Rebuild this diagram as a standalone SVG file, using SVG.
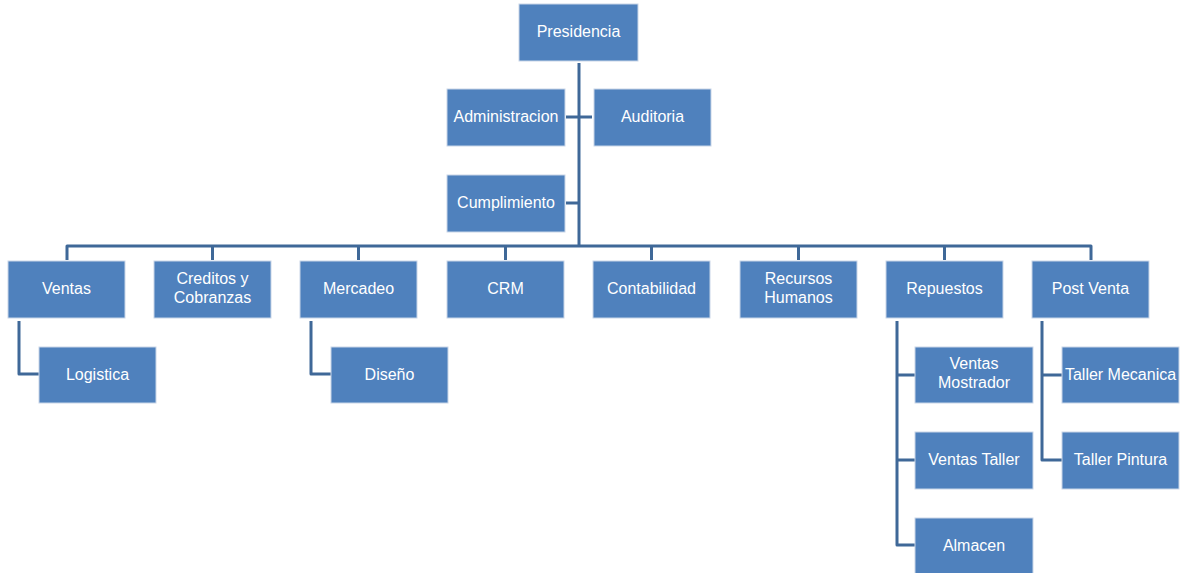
<svg xmlns="http://www.w3.org/2000/svg" width="1189" height="573" viewBox="0 0 1189 573">
<style>
.box{fill:#4F81BD;stroke:#c9d6e8;stroke-width:1}
.t{fill:#ffffff;font-family:"Liberation Sans",Arial,sans-serif;font-size:16px;text-anchor:middle}
.c{fill:none;stroke:#3F6898;stroke-width:3;stroke-linejoin:round}
</style>
<rect width="1189" height="573" fill="#ffffff"/>
<g id="connectors">
<path class="c" d="M579,63 V246"/>
<path class="c" d="M566,117 H592"/>
<path class="c" d="M566,203 H579"/>
<path class="c" d="M67,260 V246 H1091 V260"/>
<path class="c" d="M212.5,246 V260 M358.5,246 V260 M505.5,246 V260 M651.5,246 V260 M798.5,246 V260 M944.5,246 V260"/>
<path class="c" d="M19,321 V374 H39"/>
<path class="c" d="M311,321 V374 H331"/>
<path class="c" d="M897,321 V545 H915 M897,375 H915 M897,460 H915"/>
<path class="c" d="M1042,321 V460 H1062 M1042,375 H1062"/>
</g>
<g id="presidencia"><rect class="box" x="519" y="4" width="119" height="57"/><text class="t" x="578.5" y="37">Presidencia</text></g>
<g id="administracion"><rect class="box" x="447" y="89" width="118" height="57"/><text class="t" x="506" y="122">Administracion</text></g>
<g id="auditoria"><rect class="box" x="594" y="89" width="117" height="57"/><text class="t" x="652.5" y="122">Auditoria</text></g>
<g id="cumplimiento"><rect class="box" x="447" y="175" width="118" height="57"/><text class="t" x="506" y="208">Cumplimiento</text></g>
<g id="ventas"><rect class="box" x="8" y="261" width="117" height="57"/><text class="t" x="66.5" y="294">Ventas</text></g>
<g id="creditos"><rect class="box" x="154" y="261" width="117" height="57"/><text class="t" x="212.5" y="284">Creditos y</text><text class="t" x="212.5" y="303">Cobranzas</text></g>
<g id="mercadeo"><rect class="box" x="300" y="261" width="117" height="57"/><text class="t" x="358.5" y="294">Mercadeo</text></g>
<g id="crm"><rect class="box" x="447" y="261" width="117" height="57"/><text class="t" x="505.5" y="294">CRM</text></g>
<g id="contabilidad"><rect class="box" x="593" y="261" width="117" height="57"/><text class="t" x="651.5" y="294">Contabilidad</text></g>
<g id="rrhh"><rect class="box" x="740" y="261" width="117" height="57"/><text class="t" x="798.5" y="284">Recursos</text><text class="t" x="798.5" y="303">Humanos</text></g>
<g id="repuestos"><rect class="box" x="886" y="261" width="117" height="57"/><text class="t" x="944.5" y="294">Repuestos</text></g>
<g id="postventa"><rect class="box" x="1032" y="261" width="117" height="57"/><text class="t" x="1090.5" y="294">Post Venta</text></g>
<g id="logistica"><rect class="box" x="39" y="347" width="117" height="56"/><text class="t" x="97.5" y="379.5">Logistica</text></g>
<g id="diseno"><rect class="box" x="331" y="347" width="117" height="56"/><text class="t" x="389.5" y="379.5">Diseño</text></g>
<g id="ventasmostrador"><rect class="box" x="915" y="347" width="118" height="56"/><text class="t" x="974" y="369">Ventas</text><text class="t" x="974" y="388">Mostrador</text></g>
<g id="ventastaller"><rect class="box" x="915" y="432" width="118" height="57"/><text class="t" x="974" y="465">Ventas Taller</text></g>
<g id="almacen"><rect class="box" x="915" y="518" width="118" height="57"/><text class="t" x="974" y="550.5">Almacen</text></g>
<g id="tallermecanica"><rect class="box" x="1062" y="347" width="117" height="56"/><text class="t" x="1120.5" y="379.5">Taller Mecanica</text></g>
<g id="tallerpintura"><rect class="box" x="1062" y="432" width="117" height="57"/><text class="t" x="1120.5" y="465">Taller Pintura</text></g>
</svg>
